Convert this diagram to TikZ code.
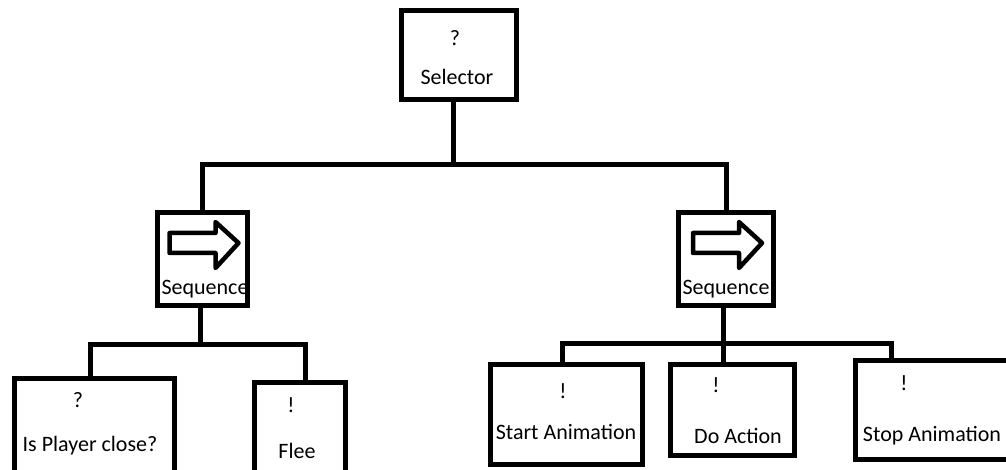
\documentclass[tikz,border=0pt]{standalone}
\usepackage{fontspec}
\setmainfont{Carlito}
\usetikzlibrary{positioning}

\begin{document}
\begin{tikzpicture}[x=1pt, y=-1pt,
  box/.style={draw, line width=5pt, inner sep=0pt},
  txt/.style={font=\fontsize{22}{26}\selectfont, inner sep=0pt},
  wire/.style={line width=5pt}]
\fill[white] (0,0) rectangle (1006,470);
\clip (0,0) rectangle (1006,470);

% boxes
\node[box, minimum width=115pt, minimum height=89pt] (sel) at (459,55) {};
\node[box, minimum width=90pt, minimum height=93pt] (seqL) at (202.5,259) {};
\node[box, minimum width=95pt, minimum height=93pt] (seqR) at (726,259) {};
\node[box, minimum width=160pt, minimum height=99pt] (close) at (94.5,428) {};
\node[box, minimum width=91pt, minimum height=95pt] (flee) at (300,430) {};
\node[box, minimum width=152pt, minimum height=100pt] (start) at (566.5,414.5) {};
\node[box, minimum width=124pt, minimum height=91pt] (doact) at (732.5,410) {};
\node[box, minimum width=157pt, minimum height=99pt] (stop) at (934,410) {};

% texts
\node[txt] (sel-mark) at (455,38) {?};
\node[txt] (sel-name) at (457,77) {Selector};
\node[txt] (seqL-name) at (205,289) {Sequence};
\node[txt] (seqR-name) at (726,289) {Sequence};
\node[txt] (close-mark) at (78,400) {?};
\node[txt] (close-name) at (90,446) {Is Player close?};
\node[txt] (flee-mark) at (291,405) {!};
\node[txt] (flee-name) at (297,451) {Flee};
\node[txt] (start-mark) at (563,391) {!};
\node[txt] (start-name) at (566,432) {Start Animation};
\node[txt] (doact-mark) at (716,385) {!};
\node[txt] (doact-name) at (738,436) {Do Action};
\node[txt] (stop-mark) at (904,383) {!};
\node[txt] (stop-name) at (932,436) {Stop Animation};

% sequence arrows
\foreach \s in {seqL,seqR}
  \draw[line width=4.5pt, line join=round]
    ([shift={(-33,-26)}]\s.center) -- ([shift={(13,-26)}]\s.center)
    -- ([shift={(13,-37)}]\s.center) -- ([shift={(36,-16)}]\s.center)
    -- ([shift={(13,9)}]\s.center) -- ([shift={(13,-6)}]\s.center)
    -- ([shift={(-33,-6)}]\s.center) -- cycle;

% tree links
\coordinate (busTop) at (453,165);
\coordinate (busL) at (200,344);
\coordinate (busR) at (723,343);
\draw[wire] ([xshift=-6pt]sel.south) -- (busTop);
\draw[wire] (seqL.north) |- (busTop) -| (seqR.north);
\draw[wire] ([xshift=-2.5pt]seqL.south) -- (busL);
\draw[wire] ([xshift=-4.5pt]close.north) |- (busL) -| ([xshift=5pt]flee.north);
\draw[wire] ([xshift=-3pt]seqR.south) -- (busR);
\draw[wire] ([xshift=-4.5pt]start.north) |- (busR) -| ([xshift=-43pt]stop.north);
\draw[wire] (busR) -- ([xshift=-9.5pt]doact.north);
\end{tikzpicture}
\end{document}
